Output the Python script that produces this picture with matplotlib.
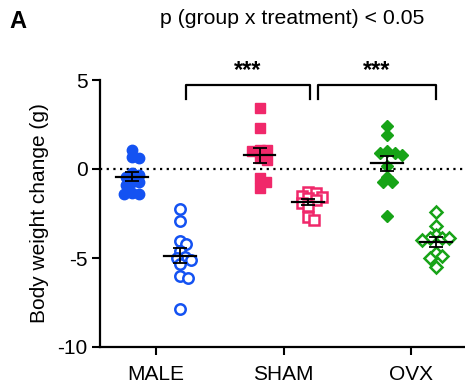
import numpy as np
import matplotlib
matplotlib.use("Agg")
import matplotlib.pyplot as plt

plt.rcParams['font.family'] = ['Liberation Sans', 'DejaVu Sans']
plt.rcParams['axes.unicode_minus'] = False

# data (body weight change, g)
groups = ["MALE", "SHAM", "OVX"]
male_veh = [1.07, 0.65, 0.6, -0.22, -0.34, -0.43, -0.71, -0.71, -0.9, -1.33, -1.42, -1.42]
male_trt = [-2.25, -2.92, -4.03, -4.23, -4.6, -4.92, -5.0, -5.1, -5.34, -6.0, -6.14, -7.85]
sham_veh = [3.41, 2.29, 1.07, 1.07, 1.0, 0.6, 0.5, -0.52, -0.71, -1.09]
sham_trt = [-1.27, -1.37, -1.5, -1.55, -1.65, -1.75, -1.9, -2.1, -2.7, -2.87]
ovx_veh = [2.43, 1.91, 1.0, 0.9, 0.9, 0.8, 0.17, -0.43, -0.71, -0.71, -2.64]
ovx_trt = [-2.4, -3.2, -3.7, -3.86, -3.86, -3.9, -4.0, -4.74, -4.9, -5.0, -5.49]

colors = ["#1452f2", "#f0286a", "#17a317"]
markers = ["o", "s", "D"]
title = "p (group x treatment) < 0.05"
ylabel = "Body weight change (g)"


# simple beeswarm: spread points sideways so they don't overlap too much (pixel units)
def swarm(vals, xpx=127.5, ypx=17.8, diam=6.5):
    order = np.argsort(vals)[::-1]
    placed = []
    offs = np.zeros(len(vals))
    for i in order:
        y = vals[i] * ypx
        for k in range(0, 40):
            found = False
            for cand in ([0.0] if k == 0 else [k * 1.5, -k * 1.5]):
                ok = True
                for (px, py) in placed:
                    if (cand - px) ** 2 + (y - py) ** 2 < diam ** 2:
                        ok = False
                        break
                if ok:
                    offs[i] = cand
                    found = True
                    break
            if found:
                break
        placed.append((offs[i], y))
    return offs / xpx


def plot_group(ax, xc, vals, color, marker, filled):
    vals = np.array(vals)
    xs = xc + swarm(vals)
    ms = 7.5 if marker == "o" else (7 if marker == "s" else 6.5)
    if filled:
        ax.plot(xs, vals, linestyle="none", marker=marker, ms=ms,
                mfc=color, mec=color, mew=1.0, zorder=3)
    else:
        ax.plot(xs, vals, linestyle="none", marker=marker, ms=ms,
                mfc="white", mec=color, mew=1.8, zorder=3)
    mean = vals.mean()
    sem = vals.std(ddof=1) / np.sqrt(len(vals))
    ax.plot([xc - 0.125, xc + 0.125], [mean, mean], color="black", lw=1.6, zorder=4)
    ax.errorbar([xc], [mean], yerr=[sem], fmt="none", ecolor="black", elinewidth=1.3,
                capsize=5, capthick=1.3, zorder=4)


fig = plt.figure(figsize=(4.65, 3.91), dpi=100)
ax = fig.add_axes([100 / 465, 44 / 391, 365 / 465, 267 / 391])

vehs = [male_veh, sham_veh, ovx_veh]
trts = [male_trt, sham_trt, ovx_trt]
for i in range(3):
    plot_group(ax, i - 0.19, vehs[i], colors[i], markers[i], True)
    plot_group(ax, i + 0.19, trts[i], colors[i], markers[i], False)

ax.axhline(0, color="black", ls=(0, (1, 2)), lw=1.6, zorder=1)

ax.set_xlim(-0.44, 2.42)
ax.set_ylim(-10, 5)
ax.set_yticks([5, 0, -5, -10])
ax.set_xticks(range(3))
ax.set_xticklabels(groups)
ax.tick_params(axis="both", width=1.5, length=6, labelsize=15)
ax.tick_params(axis="x", pad=7)
ax.tick_params(axis="y", pad=3)
ax.spines["top"].set_visible(False)
ax.spines["right"].set_visible(False)
ax.spines["left"].set_linewidth(1.6)
ax.spines["bottom"].set_linewidth(1.6)
ax.set_ylabel(ylabel, fontsize=15, labelpad=6)

# significance brackets
brackets = [(0.23, 1.205), (1.27, 2.19)]
for x0, x1 in brackets:
    ax.plot([x0, x0, x1, x1], [3.93, 4.72, 4.72, 3.93], color="black", lw=1.6,
            clip_on=False, zorder=5)
    ax.text((x0 + x1) / 2, 5.55, "***", ha="center", va="center", fontsize=17,
            fontweight="bold", clip_on=False)

fig.text(292 / 465, 1 - 19 / 391, title, ha="center", va="center", fontsize=15.3)
fig.text(9 / 465, 1 - 22 / 391, "A", ha="left", va="center", fontsize=17, fontweight="bold")

fig.savefig("out.png", dpi=100)
